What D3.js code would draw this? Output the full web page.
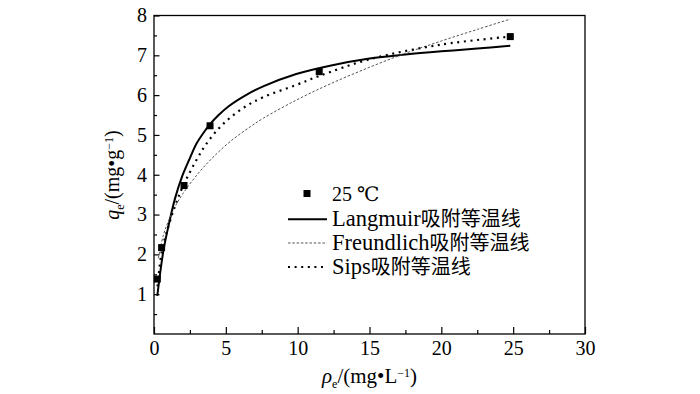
<!DOCTYPE html>
<html>
<head>
<meta charset="utf-8">
<script src="https://cdn.jsdelivr.net/npm/d3@7"></script>
<style>
  body { margin: 0; background: #fff; }
</style>
</head>
<body>
<svg width="700" height="394"></svg>
<script>
// measured points, 25 ℃
const pointX = [0.23, 0.53, 2.09, 3.9, 11.5, 24.8];
const pointY = [1.38, 2.17, 3.73, 5.23, 6.59, 7.47];

// fitted curves, values
const langmuirX = [0.23, 0.65, 1.0, 1.46, 1.97, 2.5, 2.97, 3.5, 3.9, 4.5, 5.2, 6.4, 7.6, 9.9, 12.25, 15, 17.5, 20, 22.5, 24.8];
const langmuirY = [0.96, 2.08, 2.7, 3.4, 3.97, 4.42, 4.79, 5.08, 5.27, 5.5, 5.72, 6.0, 6.22, 6.53, 6.74, 6.92, 7.02, 7.1, 7.17, 7.24];

const freundlichX = [0.3, 0.65, 1, 1.5, 2, 3, 4, 5.29, 6.68, 7.61, 9.93, 12.25, 15, 17.5, 20, 22.5, 24.8];
const freundlichY = [1.9, 2.48, 2.83, 3.22, 3.52, 4.0, 4.4, 4.83, 5.2, 5.42, 5.88, 6.28, 6.7, 7.05, 7.36, 7.65, 7.91];

const sipsX = [0.25, 0.53, 1.0, 1.5, 2.0, 3.0, 3.67, 4.5, 5.29, 6.4, 7.61, 9.93, 11.5, 15, 20, 24.8];
const sipsY = [1.2, 2.05, 2.7, 3.25, 3.7, 4.4, 4.79, 5.16, 5.43, 5.72, 5.95, 6.26, 6.48, 6.9, 7.27, 7.47];

const xTicks = [0, 5, 10, 15, 20, 25, 30];
const yTicks = [1, 2, 3, 4, 5, 6, 7, 8];

// legend labels: latin part, chinese part
const legendNames = ["25 \u2103", "Langmuir", "Freundlich", "Sips"];
const legendSuffix = ["", "吸附等温线", "吸附等温线", "吸附等温线"];

const serif = "'Liberation Serif', 'DejaVu Serif', 'Noto Sans CJK SC', serif";

const box = { left: 154, right: 585, top: 15.5, bottom: 334 };

const svg = d3.select("svg");

const x = d3.scaleLinear().domain([0, 30]).range([box.left, box.right]);
const y = d3.scaleLinear().domain([0, 8]).range([box.bottom, box.top]);

const zip = (xs, ys) => xs.map((v, i) => [v, ys[i]]);

const line = d3.line()
  .x(d => x(d[0]))
  .y(d => y(d[1]))
  .curve(d3.curveCatmullRom.alpha(0.5));

// curves, in legend order
const series = [
  { data: zip(langmuirX, langmuirY), width: 2, dash: null, color: "#000" },
  { data: zip(freundlichX, freundlichY), width: 1, dash: "2.5,1.8", color: "#555" },
  { data: zip(sipsX, sipsY), width: 2.2, dash: "2,4.6", color: "#000" }
];

svg.selectAll("path.curve")
  .data(series)
  .enter()
  .append("path")
  .attr("class", "curve")
  .attr("d", d => line(d.data))
  .attr("fill", "none")
  .attr("stroke", d => d.color)
  .attr("stroke-width", d => d.width)
  .attr("stroke-dasharray", d => d.dash);

// points
svg.selectAll("rect.pt")
  .data(zip(pointX, pointY))
  .enter()
  .append("rect")
  .attr("class", "pt")
  .attr("x", d => x(d[0]) - 3.5)
  .attr("y", d => y(d[1]) - 3.5)
  .attr("width", 7)
  .attr("height", 7)
  .attr("fill", "#000");

// frame
svg.append("rect")
  .attr("x", box.left)
  .attr("y", box.top)
  .attr("width", box.right - box.left)
  .attr("height", box.bottom - box.top)
  .attr("fill", "none")
  .attr("stroke", "#000")
  .attr("stroke-width", 1.3);

// axes with inward ticks
svg.append("g")
  .attr("transform", `translate(0,${box.bottom})`)
  .call(d3.axisBottom(x).tickValues(xTicks).tickSize(-7).tickPadding(7).tickFormat(d3.format("d")));
svg.append("g")
  .attr("transform", `translate(0,${box.bottom})`)
  .call(d3.axisBottom(x).tickValues(xTicks.slice(0, -1).map(v => v + 2.5)).tickSize(-4).tickFormat(""));

svg.append("g")
  .attr("transform", `translate(${box.left},0)`)
  .call(d3.axisLeft(y).tickValues(yTicks).tickSize(-5.5).tickPadding(7).tickFormat(d3.format("d")));
svg.append("g")
  .attr("transform", `translate(${box.left},0)`)
  .call(d3.axisLeft(y).tickValues(yTicks.map(v => v - 0.5)).tickSize(-3).tickFormat(""));

svg.selectAll(".tick line").attr("stroke", "#000").attr("stroke-width", 1.2);
svg.selectAll(".domain").remove();
svg.selectAll(".tick text").style("font-size", "20px");

// axis titles
const axisTitle = (sel, sym, unit) => {
  sel.append("tspan").attr("font-style", "italic").text(sym);
  sel.append("tspan").style("font-size", "12px").attr("dy", 5).text("e");
  sel.append("tspan").attr("dy", -5).text("/(mg\u2022" + unit);
  sel.append("tspan").style("font-size", "12px").attr("dy", -6).text("\u22121");
  sel.append("tspan").attr("dy", 6).text(")");
};

svg.append("text")
  .attr("x", x(15))
  .attr("y", 383)
  .attr("text-anchor", "middle")
  .style("font-size", "21px")
  .call(axisTitle, "\u03c1", "L");

svg.append("text")
  .attr("transform", "translate(119,175) rotate(-90)")
  .attr("text-anchor", "middle")
  .style("font-size", "20px")
  .call(axisTitle, "q", "g");

// legend
const legendRows = [193.5, 219.3, 243, 267];
const legend = svg.append("g");

legend.append("rect")
  .attr("x", 303.5)
  .attr("y", legendRows[0] - 3.5)
  .attr("width", 7)
  .attr("height", 7)
  .attr("fill", "#000");

legend.selectAll("line")
  .data(series)
  .enter()
  .append("line")
  .attr("x1", 288)
  .attr("x2", 327)
  .attr("y1", (d, i) => legendRows[i + 1])
  .attr("y2", (d, i) => legendRows[i + 1])
  .attr("stroke", d => d.color)
  .attr("stroke-width", d => d.width)
  .attr("stroke-dasharray", d => d.dash);

const legendText = legend.selectAll("text")
  .data(legendNames)
  .enter()
  .append("text")
  .attr("x", 332)
  .attr("y", (d, i) => legendRows[i] + 7)
  .style("font-size", (d, i) => i === 0 ? "20px" : "22.5px");
legendText.append("tspan").text(d => d);
legendText.append("tspan")
  .style("font-size", "20px")
  .text((d, i) => legendSuffix[i]);

// one font family for every text
svg.selectAll("text")
  .style("font-family", serif)
  .attr("fill", "#000");
</script>
</body>
</html>
